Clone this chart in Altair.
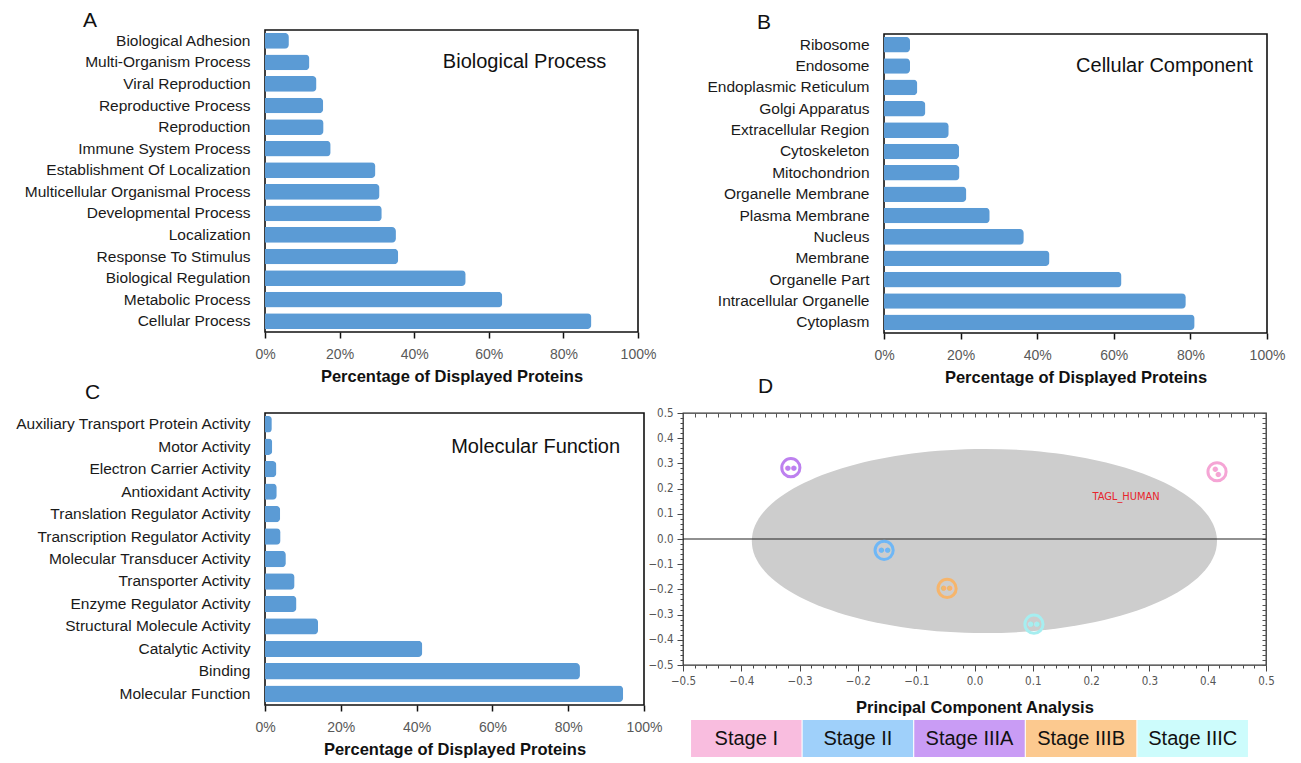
import altair as alt
import pandas as pd

# ---------------- data ----------------
bp_terms = ["Biological Adhesion", "Multi-Organism Process", "Viral Reproduction",
            "Reproductive Process", "Reproduction", "Immune System Process",
            "Establishment Of Localization", "Multicellular Organismal Process",
            "Developmental Process", "Localization", "Response To Stimulus",
            "Biological Regulation", "Metabolic Process", "Cellular Process"]
bp_pct = [6.4, 11.9, 13.8, 15.6, 15.7, 17.6, 29.6, 30.7, 31.3, 35.1, 35.7, 53.8, 63.6, 87.5]

cc_terms = ["Ribosome", "Endosome", "Endoplasmic Reticulum", "Golgi Apparatus",
            "Extracellular Region", "Cytoskeleton", "Mitochondrion", "Organelle Membrane",
            "Plasma Membrane", "Nucleus", "Membrane", "Organelle Part",
            "Intracellular Organelle", "Cytoplasm"]
cc_pct = [6.8, 6.8, 8.7, 10.8, 16.9, 19.6, 19.7, 21.5, 27.6, 36.5, 43.2, 62.0, 78.8, 81.1]

mf_terms = ["Auxiliary Transport Protein Activity", "Motor Activity",
            "Electron Carrier Activity", "Antioxidant Activity",
            "Translation Regulator Activity", "Transcription Regulator Activity",
            "Molecular Transducer Activity", "Transporter Activity",
            "Enzyme Regulator Activity", "Structural Molecule Activity",
            "Catalytic Activity", "Binding", "Molecular Function"]
mf_pct = [1.8, 1.9, 3.0, 3.1, 4.0, 4.1, 5.5, 7.8, 8.3, 14.0, 41.5, 83.1, 94.5]

pct_ticks = [0, 0.2, 0.4, 0.6, 0.8, 1.0]

stages = ["Stage I", "Stage II", "Stage IIIA", "Stage IIIB", "Stage IIIC"]
stage_pc1 = [0.416, -0.155, -0.315, -0.047, 0.102]
stage_pc2 = [0.267, -0.045, 0.283, -0.196, -0.338]
stage_dot_angle = [60, 0, 0, 0, 0]

cloud_pc1 = [0.017]
cloud_pc2 = [-0.008]

protein_names = ["TAGL_HUMAN"]
protein_pc1 = [0.26]
protein_pc2 = [0.168]

pc_major = [-0.5, -0.4, -0.3, -0.2, -0.1, 0.0, 0.1, 0.2, 0.3, 0.4, 0.5]
pc_minor = [round(-0.5 + 0.02 * i, 2) for i in range(51)]

# ---------------- styles ----------------
FONT = "Liberation Sans"
NARROW = "Liberation Sans Narrow, Arial Narrow, DejaVu Sans Condensed, sans-serif"
BAR = "#5b9bd5"
stage_fill = ["#f9bddf", "#9fd0fa", "#c99cf5", "#fcc98f", "#cdfcfc"]
stage_ring = ["#f5a5d5", "#6fb7f6", "#bd80ef", "#f6b56c", "#a6eef0"]
ELLIPSE = "M -1 0 A 1 0.396 0 1 1 1 0 A 1 0.396 0 1 1 -1 0 Z"


def bar_panel(letter, terms, pct, label, label_x, label_row, width, height,
              title_dx, title_offset):
    df = pd.DataFrame({"term": terms, "pct": [v / 100 for v in pct]})
    y = alt.Y("term:N", sort=terms,
              scale=alt.Scale(paddingInner=0.27, paddingOuter=0.135),
              axis=alt.Axis(title="", ticks=False, domain=False,
                            labelFontSize=15.5, labelColor="#1a1a1a",
                            labelFont=FONT, labelPadding=15, labelLimit=400))
    x = alt.X("pct:Q", scale=alt.Scale(domain=[0, 1], nice=False),
              axis=alt.Axis(values=pct_ticks, format="%", grid=False, domain=False,
                            tickColor="#111", tickSize=6, tickWidth=1.5,
                            labelFlush=False,
                            labelFontSize=14, labelColor="#595959", labelFont=FONT,
                            labelPadding=9, title="Percentage of Displayed Proteins",
                            titleFontSize=16.5, titleFontWeight="bold",
                            titleColor="#111", titleFont=FONT, titlePadding=7))
    bars = alt.Chart(df).mark_bar(color=BAR, cornerRadiusEnd=4).encode(x=x, y=y)
    ann = alt.Chart(pd.DataFrame({"t": [label]})).mark_text(
        align="right", baseline="middle", fontSize=20, font=FONT, color="#111"
    ).encode(x=alt.XDatum(label_x, type="quantitative"),
             y=alt.YDatum(label_row, type="nominal"),
             text="t:N")
    return alt.layer(bars, ann).properties(
        width=width, height=height,
        view=alt.ViewBackground(stroke="#111", strokeWidth=1.6),
        title=alt.TitleParams(letter, anchor="start", frame="group", dx=title_dx,
                              offset=title_offset, fontSize=21, fontWeight="normal",
                              font=FONT, color="#111"))


panel_a = bar_panel("A", bp_terms, bp_pct, "Biological Process", 0.915,
                    "Multi-Organism Process", 373, 302, -182, -1)
panel_b = bar_panel("B", cc_terms, cc_pct, "Cellular Component", 0.963,
                    "Endosome", 383, 299, -127, 1)
panel_c = bar_panel("C", mf_terms, mf_pct, "Molecular Function", 0.937,
                    "Motor Activity", 379, 292, -180, 10)

# ---------------- panel D ----------------
major_test = "abs(datum.value*10 - round(datum.value*10)) < 0.001"
tick_cond = {"condition": {"test": major_test, "value": 6}, "value": 3}
lab_expr = major_test + " ? format(datum.value, '.1f') : ''"

x_main = alt.X("pc1:Q", scale=alt.Scale(domain=[-0.5, 0.5], nice=False),
               axis=alt.Axis(orient="bottom", values=pc_minor, labelExpr=lab_expr,
                             labelOverlap=False, labelFlush=False,
                             tickSize=tick_cond, tickColor="#444",
                             tickWidth=1, domain=False, grid=False,
                             labelFont=NARROW, labelFontSize=11.5, labelColor="#555",
                             labelPadding=4, title="Principal Component Analysis",
                             titleFont=FONT, titleFontSize=16.5, titleFontWeight="bold",
                             titleColor="#111", titlePadding=13))
y_main = alt.Y("pc2:Q", scale=alt.Scale(domain=[-0.5, 0.5], nice=False),
               axis=alt.Axis(orient="left", values=pc_minor, labelExpr=lab_expr,
                             labelOverlap=False, labelFlush=False,
                             tickSize=tick_cond, tickColor="#444",
                             tickWidth=1, domain=False, grid=False,
                             labelFont=NARROW, labelFontSize=11.5, labelColor="#555",
                             labelPadding=4, title=""))
x_top = alt.X("pc1:Q", axis=alt.Axis(orient="top", values=pc_minor, labels=False,
                                     tickSize=4, offset=-4, tickColor="#555",
                                     domain=False, grid=False, title=""))
y_right = alt.Y("pc2:Q", axis=alt.Axis(orient="right", values=pc_minor, labels=False,
                                       tickSize=4, offset=-4, tickColor="#555",
                                       domain=False, grid=False, title=""))

cloud_df = pd.DataFrame({"pc1": cloud_pc1, "pc2": cloud_pc2})
cloud = alt.Chart(cloud_df).mark_point(
    shape=ELLIPSE, filled=True, color="#cdcdcd", opacity=1, size=216400, strokeWidth=0
).encode(x=x_main, y=y_main)

zero = alt.Chart(cloud_df).mark_rule(color="#222", strokeWidth=1.2).encode(
    y=alt.YDatum(0, type="quantitative", axis=None))

prot_df = pd.DataFrame({"name": protein_names, "pc1": protein_pc1, "pc2": protein_pc2})
prot = alt.Chart(prot_df).mark_text(font=NARROW, fontSize=11, color="#e8242c").encode(
    x=x_top, y=y_right, text="name:N")

st_df = pd.DataFrame({"stage": stages, "pc1": stage_pc1, "pc2": stage_pc2,
                      "ring": stage_ring, "rot": stage_dot_angle})
x_plain = alt.X("pc1:Q", axis=None)
y_plain = alt.Y("pc2:Q", axis=None)
rings = alt.Chart(st_df).mark_point(shape="circle", filled=False, strokeWidth=3,
                                    size=330, opacity=1).encode(
    x=x_plain, y=y_plain, color=alt.Color("ring:N", scale=None))
dots = alt.Chart(st_df).mark_text(text="●●", fontSize=7, font="DejaVu Sans").encode(
    x=x_plain, y=y_plain, color=alt.Color("ring:N", scale=None),
    angle=alt.Angle("rot:Q", scale=None))

panel_d_plot = alt.layer(cloud, zero, prot, rings, dots).resolve_axis(
    x="independent", y="independent").properties(
    width=583, height=252,
    view=alt.ViewBackground(stroke="#333", strokeWidth=1.3),
    title=alt.TitleParams("D", anchor="start", frame="group", dx=75, offset=10,
                          fontSize=21, fontWeight="normal", font=FONT, color="#111"))

leg_df = pd.DataFrame({"stage": stages, "fill": stage_fill})
leg_x = alt.X("stage:N", sort=stages, axis=None,
              scale=alt.Scale(paddingInner=0.01, paddingOuter=0.072))
leg_boxes = alt.Chart(leg_df).mark_bar(opacity=1).encode(
    x=leg_x, color=alt.Color("fill:N", scale=None))
leg_text = alt.Chart(leg_df).mark_text(fontSize=20, font=FONT, color="#111").encode(
    x=leg_x, text="stage:N")
legend = alt.layer(leg_boxes, leg_text).properties(
    width=573, height=37, view=alt.ViewBackground(stroke="transparent"))

panel_d = alt.vconcat(panel_d_plot, legend, spacing=55, bounds="flush").resolve_scale(
    x="independent", y="independent", color="independent")


def spacer(h):
    # invisible spacer: flush nested concats count as zero size, so spacers set offsets
    return alt.Chart(pd.DataFrame({"s": []})).mark_point(opacity=0).encode(
        x=alt.value(0)).properties(width=10, height=h,
                                   view=alt.ViewBackground(stroke="transparent"))


col_b = alt.vconcat(spacer(4), panel_b, spacing=0, bounds="flush").resolve_scale(
    x="independent", y="independent")

row1 = alt.hconcat(panel_a, col_b, spacing=246, bounds="flush").resolve_scale(
    x="independent", y="independent")
row2 = alt.hconcat(panel_c, panel_d, spacing=39, bounds="flush").resolve_scale(
    x="independent", y="independent", color="independent")

chart = alt.vconcat(row1, spacer(383), row2, spacing=0, bounds="flush").resolve_scale(
    x="independent", y="independent", color="independent").properties(
    padding={"top": 1, "left": 5, "right": 5, "bottom": 0},
    background="white").configure(font=FONT)

chart.save("out.html", embed_options={"renderer": "svg", "actions": False})
